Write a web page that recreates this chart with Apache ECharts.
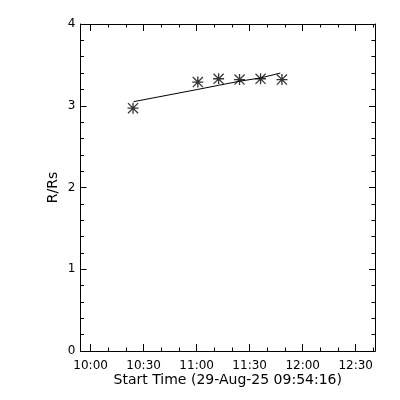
<!DOCTYPE html>
<html>
<head>
<meta charset="utf-8">
<script src="https://cdn.jsdelivr.net/npm/echarts@6/dist/echarts.min.js"></script>
<style>html,body{margin:0;padding:0;background:#fff;}#chart{width:400px;height:400px;}</style>
</head>
<body>
<div id="chart"></div>
<script>
// ---- data ----
const startTime = '09:54:16';
const endTime = '12:40:56';
const obsTimes = ['10:24:00', '11:00:40', '11:12:25', '11:24:16', '11:36:10', '11:48:16'];
const obsHeights = [2.97, 3.29, 3.33, 3.32, 3.33, 3.32];
const fitTimes = ['10:24:20', '11:00:40', '11:12:25', '11:24:16', '11:36:10', '11:47:20'];
const fitHeights = [3.05, 3.20, 3.25, 3.30, 3.34, 3.40];
const majorTickLabels = ['10:00', '10:30', '11:00', '11:30', '12:00', '12:30'];
const minorTickTimes = ['10:10', '10:20', '10:40', '10:50', '11:10', '11:20', '11:40', '11:50',
                        '12:10', '12:20', '12:40'];
const yTicks = [0, 1, 2, 3, 4];
const xTitle = 'Start Time (29-Aug-25 09:54:16)';
const yTitle = 'R/Rs';

function toMin(s) {
  const p = s.split(':').map(Number);
  return p[0] * 60 + p[1] + (p[2] || 0) / 60;
}
const xMin = toMin(startTime), xMax = toMin(endTime);
const majorVals = majorTickLabels.map(toMin);
const minorVals = minorTickTimes.map(toMin);

const FONT = 'DejaVu Sans';
const lineStyle = { color: '#000', width: 1 };

function xAx(pos, vals, opts) {
  return Object.assign({
    type: 'value', position: pos, min: xMin, max: xMax,
    axisLine: { show: true, onZero: false, lineStyle: lineStyle },
    axisTick: { show: true, inside: true, length: 7, customValues: vals, lineStyle: lineStyle },
    axisLabel: { show: false, customValues: vals },
    splitLine: { show: false }
  }, opts || {});
}

const starPath = 'path://M4.4 0 L5.6 0 L5.6 10 L4.4 10 Z M0 4.4 L10 4.4 L10 5.6 L0 5.6 Z ' +
  'M0.8 0 L10 9.2 L9.2 10 L0 0.8 Z M9.2 0 L10 0.8 L0.8 10 L0 9.2 Z';

const chart = echarts.init(document.getElementById('chart'), null, { renderer: 'canvas' });
chart.setOption({
  backgroundColor: '#fff',
  animation: false,
  grid: { left: 80.5, right: 25, top: 24, bottom: 49, containLabel: false },
  xAxis: [
    xAx('bottom', majorVals, {
      axisLabel: {
        show: true, customValues: majorVals, margin: 9, color: '#000',
        fontFamily: FONT, fontSize: 12,
        formatter: function (v) {
          const i = majorVals.findIndex(function (m) { return Math.abs(m - v) < 1e-6; });
          return i >= 0 ? majorTickLabels[i] : '';
        }
      },
      name: xTitle, nameLocation: 'middle', nameGap: 22, nameMoveOverlap: false,
      nameTextStyle: { color: '#000', fontFamily: FONT, fontSize: 14 }
    }),
    xAx('bottom', minorVals, { axisTick: { show: true, inside: true, length: 3.5, customValues: minorVals, lineStyle: lineStyle } }),
    xAx('top', majorVals),
    xAx('top', minorVals, { axisTick: { show: true, inside: true, length: 3.5, customValues: minorVals, lineStyle: lineStyle } })
  ],
  yAxis: [
    {
      type: 'value', position: 'left', min: yTicks[0], max: yTicks[yTicks.length - 1], interval: 1,
      axisLine: { show: true, onZero: false, lineStyle: lineStyle },
      axisTick: { show: true, inside: true, length: 6, lineStyle: lineStyle },
      minorTick: { show: true, splitNumber: 5, length: 3.5, lineStyle: lineStyle },
      axisLabel: { show: true, margin: 5, color: '#000', fontFamily: FONT, fontSize: 12 },
      splitLine: { show: false },
      name: yTitle, nameLocation: 'middle', nameGap: 20, nameRotate: 90, nameMoveOverlap: false,
      nameTextStyle: { color: '#000', fontFamily: FONT, fontSize: 14 }
    },
    {
      type: 'value', position: 'right', min: yTicks[0], max: yTicks[yTicks.length - 1], interval: 1,
      axisLine: { show: true, onZero: false, lineStyle: lineStyle },
      axisTick: { show: true, inside: true, length: 6, lineStyle: lineStyle },
      minorTick: { show: true, splitNumber: 5, length: 3.5, lineStyle: lineStyle },
      axisLabel: { show: false },
      splitLine: { show: false }
    }
  ],
  series: [
    {
      type: 'line', xAxisIndex: 0, yAxisIndex: 0,
      data: fitTimes.map(function (t, i) { return [toMin(t), fitHeights[i]]; }),
      showSymbol: false, symbol: 'none',
      lineStyle: { color: '#000', width: 1 }
    },
    {
      type: 'scatter', xAxisIndex: 0, yAxisIndex: 0,
      data: obsTimes.map(function (t, i) { return [toMin(t), obsHeights[i]]; }),
      symbol: starPath, symbolSize: 11,
      itemStyle: { color: '#000' }
    }
  ]
});
</script>
</body>
</html>
